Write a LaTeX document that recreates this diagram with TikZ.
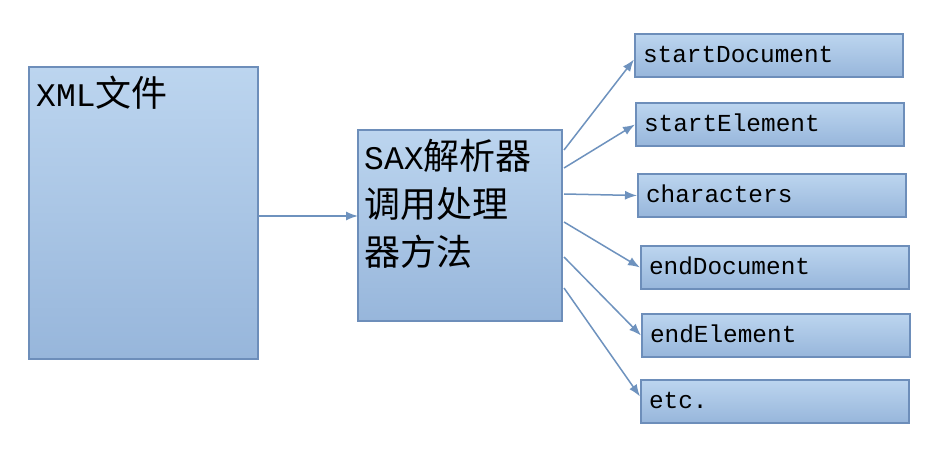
\documentclass[tikz,border=0pt]{standalone}
\usepackage{fontspec}
\setmainfont{Liberation Mono}
\newfontfamily\cjk{Noto Sans CJK SC}
\usetikzlibrary{arrows.meta,calc}
\definecolor{bordc}{HTML}{6D8EBA}
\definecolor{arrc}{HTML}{6E92BE}
\definecolor{topc}{HTML}{BCD5EF}
\definecolor{botc}{HTML}{97B6DB}
\tikzset{
  bigbox/.style={draw=bordc, line width=2pt, top color=topc, bottom color=botc, anchor=north west, inner sep=0pt},
  smallbox/.style={draw=bordc, line width=2pt, top color=topc, bottom color=botc, anchor=north west,
     minimum height=43pt, text width=252pt, align=left, inner xsep=8pt, inner ysep=0pt,
     font=\fontsize{24.4pt}{26pt}\selectfont, text height=16pt, text depth=2pt},
  bigtext/.style={anchor=north west, align=left, inner sep=0pt, font=\fontsize{33pt}{48pt}\selectfont},
  conn/.style={draw=arrc, line width=1.5pt, -{Latex[length=12pt,width=9pt]}}
}
\begin{document}
\begin{tikzpicture}[x=1pt,y=-1pt]
\useasboundingbox (0,0) rectangle (926,449);
\fill[white] (0,0) rectangle (926,449);
\node[bigbox, minimum width=229pt, minimum height=292pt] (xml) at (28,66) {};
\node[bigtext] (xmlt) at (36,76) {XML{\cjk\fontsize{36pt}{48pt}\selectfont 文件}};
\node[bigbox, minimum width=204pt, minimum height=191pt] (sax) at (357,129) {};
\node[bigtext] (saxt) at (364,139) {SAX{\cjk\fontsize{36pt}{48pt}\selectfont 解析器}\\[0pt]{\cjk\fontsize{36pt}{48pt}\selectfont 调用处理}\\{\cjk\fontsize{36pt}{48pt}\selectfont 器方法}};
\node[smallbox] (sd) at (634,33) {startDocument};
\node[smallbox] (se) at (635,102) {startElement};
\node[smallbox] (ch) at (637,173) {characters};
\node[smallbox] (ed) at (640,245) {endDocument};
\node[smallbox] (ee) at (641,313) {endElement};
\node[smallbox] (et) at (640,379) {etc.};
\draw[conn] ($(xml.east)+(0,3)$) -- ($(xml.east)+(99,3)$);
\draw[conn] ($(sax.north east)+(1,21)$) -- ($(sd.west)+(0,4)$);
\draw[conn] ($(sax.north east)+(1,39)$) -- (se.west);
\draw[conn] ($(sax.north east)+(1,65)$) -- (ch.west);
\draw[conn] ($(sax.north east)+(1,93)$) -- (ed.west);
\draw[conn] ($(sax.north east)+(1,128)$) -- (ee.west);
\draw[conn] ($(sax.north east)+(1,159)$) -- ($(et.west)+(0,-5)$);
\end{tikzpicture}
\end{document}
